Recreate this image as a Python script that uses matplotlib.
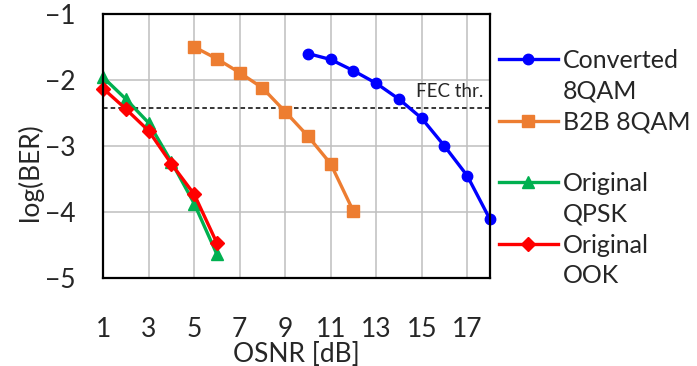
import matplotlib
matplotlib.use("Agg")
import matplotlib.pyplot as plt
from matplotlib.lines import Line2D

plt.rcParams["font.family"] = ["Lato", "DejaVu Sans"]

TEXT = "#262626"

conv_x = [10, 11, 12, 13, 14, 15, 16, 17, 18]
conv_y = [-1.60, -1.69, -1.86, -2.05, -2.29, -2.58, -3.00, -3.45, -4.11]

b2b_x = [5, 6, 7, 8, 9, 10, 11, 12]
b2b_y = [-1.50, -1.68, -1.89, -2.12, -2.48, -2.85, -3.27, -3.99]

qpsk_x = [1, 2, 3, 4, 5, 6]
qpsk_y = [-1.96, -2.29, -2.65, -3.24, -3.87, -4.64]

ook_x = [1, 2, 3, 4, 5, 6]
ook_y = [-2.13, -2.44, -2.77, -3.27, -3.73, -4.47]

fec_thr = -2.42
x_ticks = [1, 3, 5, 7, 9, 11, 13, 15, 17]
y_ticks = [-1, -2, -3, -4, -5]

FS = 19

fig = plt.figure(figsize=(6.97, 3.66), dpi=100)
ax = fig.add_axes([0.148, 0.240, 0.555, 0.722])

ax.set_xlim(1, 18)
ax.set_ylim(-5, -1)
ax.set_xticks(x_ticks)
ax.set_yticks(y_ticks)
ax.grid(True, color="#bfbfbf", linewidth=1.1)
ax.set_axisbelow(True)
for sp in ax.spines.values():
    sp.set_color("black")
    sp.set_linewidth(1.6)
ax.tick_params(length=0, labelsize=FS, colors=TEXT)
ax.tick_params(axis="x", pad=28)
ax.tick_params(axis="y", pad=20)

ax.axhline(fec_thr, color="black", linestyle=(0, (3, 2)), linewidth=1.1)
ax.text(17.7, fec_thr + 0.12, "FEC thr.", ha="right", va="bottom",
        fontsize=13.5, color=TEXT)

series = [
    (conv_x, conv_y, "#0000ff", "o", 7.5),
    (b2b_x, b2b_y, "#ed7d31", "s", 8),
    (qpsk_x, qpsk_y, "#00b050", "^", 8),
    (ook_x, ook_y, "#ff0000", "D", 7.5),
]
handles = []
for x, y, c, m, ms in series:
    ln, = ax.plot(x, y, color=c, marker=m, markersize=ms, linewidth=2.4,
                  clip_on=False)
    handles.append(ln)

ax.set_xlabel("OSNR [dB]", fontsize=FS, color=TEXT, labelpad=0)
ax.set_ylabel("log(BER)", fontsize=FS, color=TEXT)
ax.yaxis.set_label_coords(-0.155, 0.40)

blank = Line2D([], [], linestyle="none")
leg_handles = [handles[0], blank, handles[1], blank,
               handles[2], blank, handles[3], blank]
leg_labels = ["Converted", "8QAM", "B2B 8QAM", " ",
              "Original", "QPSK", "Original", "OOK"]
fig.legend(leg_handles, leg_labels, loc="upper left",
           bbox_to_anchor=(0.716, 0.866), frameon=False, fontsize=18,
           handlelength=2.35, handletextpad=0.2, labelspacing=0.31,
           borderaxespad=0, borderpad=0, labelcolor=TEXT)

fig.savefig("out.png", dpi=100)
